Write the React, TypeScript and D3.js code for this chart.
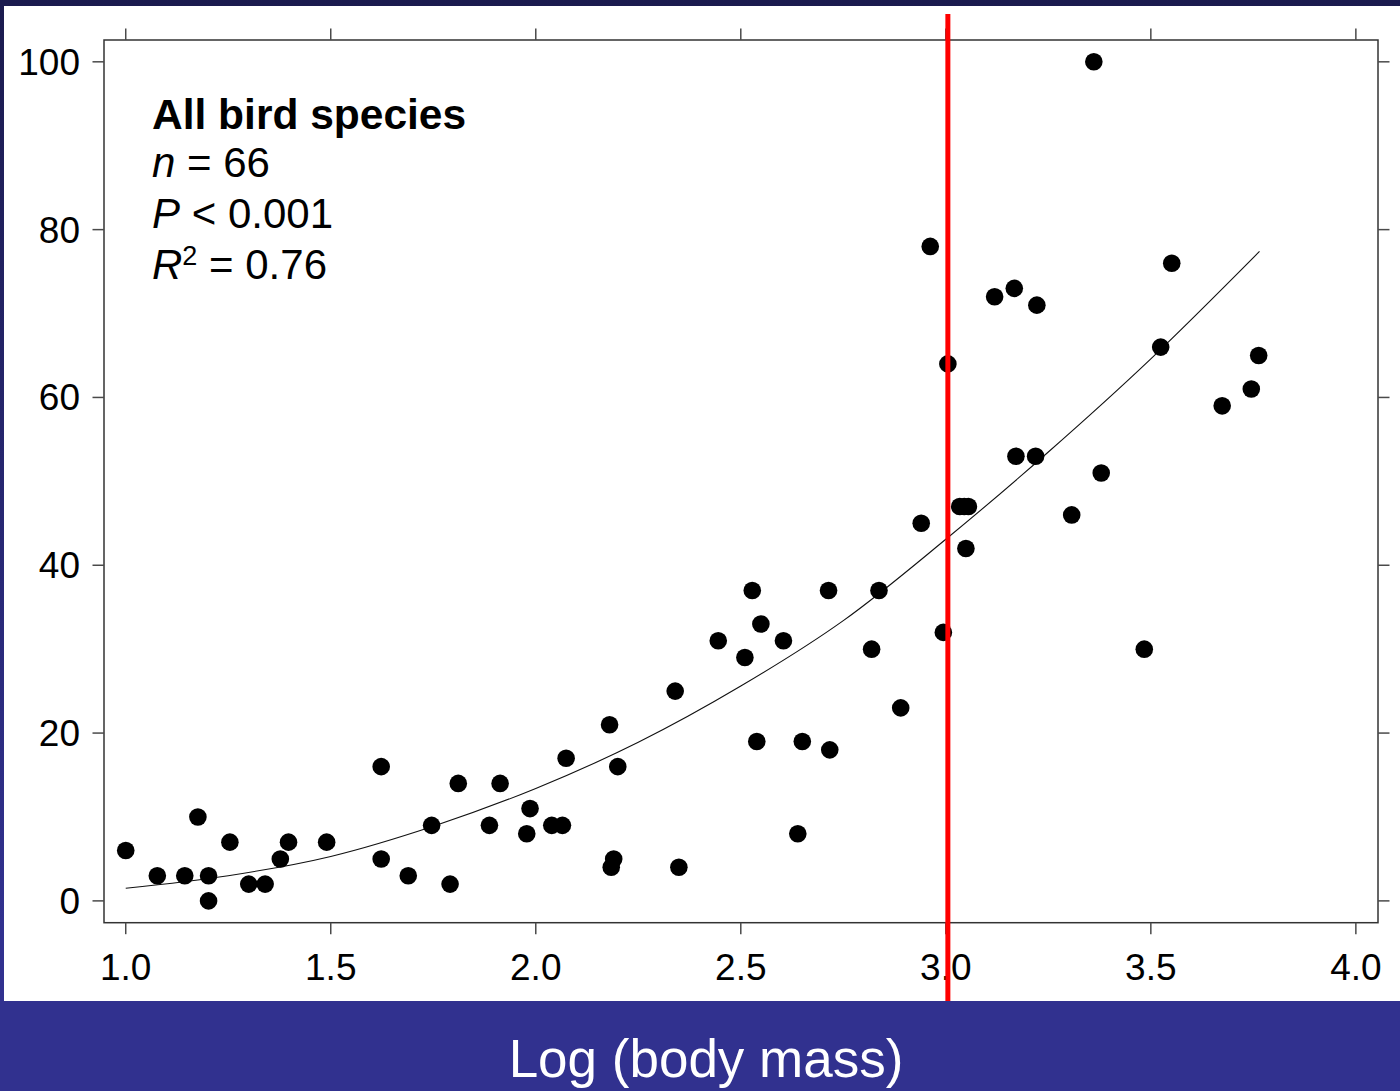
import React from "react";
import * as d3 from "d3";

const xValues = [
  1.0, 1.176, 1.077, 1.144, 1.202, 1.202, 1.254, 1.3, 1.34, 1.377, 1.397, 1.49,
  1.623, 1.623, 1.689, 1.746, 1.791, 1.811, 1.887, 1.913, 1.978, 1.986, 2.039, 2.065,
  2.074, 2.18, 2.2, 2.19, 2.184,
  2.528, 2.714, 2.837, 2.549, 2.445, 2.604, 2.51, 2.819, 2.34, 2.539, 2.65, 2.717,
  2.89, 2.639, 2.349,
  2.962, 3.119, 3.167, 3.222, 3.005, 3.171, 3.219, 3.034, 3.045, 3.055, 2.94, 3.049,
  2.994, 3.307,
  3.551, 3.524, 3.763, 3.745, 3.674, 3.379, 3.484, 3.361,
];
const yValues = [
  6, 10, 3, 3, 3, 0, 7, 2, 2, 5, 7, 7,
  16, 5, 3, 9, 2, 14, 9, 14, 8, 11, 9, 9,
  17, 21, 16, 5, 4,
  37, 37, 37, 33, 31, 31, 29, 30, 25, 19, 19, 18,
  23, 8, 4,
  78, 72, 73, 71, 64, 53, 53, 47, 47, 47, 45, 42,
  32, 46,
  76, 66, 65, 61, 59, 51, 30, 100,
];

const fitX = [1.0, 1.25, 1.5, 1.75, 2.0, 2.25, 2.5, 2.75, 3.0, 3.25, 3.5, 3.765];
const fitY = [1.5, 3.0, 5.3, 8.9, 13.4, 18.9, 25.6, 33.4, 43.1, 53.5, 64.6, 77.4];

const xTicks = [1.0, 1.5, 2.0, 2.5, 3.0, 3.5, 4.0];
const yTicks = [0, 20, 40, 60, 80, 100];
const thresholdX = [3.005];

const titleLine = "All bird species";
const statN = "66";
const statP = "0.001";
const statR2 = "0.76";
const axisTitle = "Log (body mass)";

const W = 1400;
const H = 1091;
const FONT = "'Liberation Sans', Arial, Helvetica, sans-serif";

export default function App() {
  const left = 104, right = 1378, top = 40, bottom = 922.7;
  const x = d3.scaleLinear().domain([0.947, 4.054]).range([left, right]);
  const y = d3.scaleLinear().domain([-2.6, 102.6]).range([bottom, top]);
  const pts = xValues.map((v, i) => [v, yValues[i]] as [number, number]);
  const fit = fitX.map((v, i) => [v, fitY[i]] as [number, number]);
  const line = d3
    .line<[number, number]>()
    .x((d) => x(d[0]))
    .y((d) => y(d[1]))
    .curve(d3.curveCatmullRom);
  const tickLen = 11.5;
  const tickColor = "#4a4a4a";

  return (
    <svg
      width={W}
      height={H}
      style={{ position: "absolute", left: 0, top: 0, display: "block" }}
      fontFamily={FONT}
    >
      <defs>
        <linearGradient id="bg" x1="0" y1="0" x2="0" y2="1">
          <stop offset="0" stopColor="#1b1b4e" />
          <stop offset="0.85" stopColor="#31318f" />
          <stop offset="1" stopColor="#31318f" />
        </linearGradient>
      </defs>
      <rect x={0} y={0} width={W} height={H} fill="url(#bg)" />
      <rect x={0} y={1001} width={W} height={H - 1001} fill="#31318f" />
      <rect x={4} y={6} width={W - 4} height={995} fill="#ffffff" />

      {/* plot box */}
      <rect
        x={left}
        y={top}
        width={right - left}
        height={bottom - top}
        fill="none"
        stroke="#333"
        strokeWidth={1.5}
      />

      {/* x ticks bottom and top */}
      {xTicks.map((t) => (
        <g key={"xt" + t}>
          <line x1={x(t)} x2={x(t)} y1={bottom} y2={bottom + tickLen} stroke={tickColor} strokeWidth={1.5} />
          <line x1={x(t)} x2={x(t)} y1={top} y2={top - tickLen} stroke={tickColor} strokeWidth={1.5} />
          <text x={x(t)} y={980} textAnchor="middle" fontSize={37} fill="#000">
            {t.toFixed(1)}
          </text>
        </g>
      ))}

      {/* y ticks left and right */}
      {yTicks.map((t) => (
        <g key={"yt" + t}>
          <line x1={left} x2={left - tickLen} y1={y(t)} y2={y(t)} stroke={tickColor} strokeWidth={1.5} />
          <line x1={right} x2={right + tickLen} y1={y(t)} y2={y(t)} stroke={tickColor} strokeWidth={1.5} />
          <text x={80} y={y(t) + 13} textAnchor="end" fontSize={37} fill="#000">
            {t}
          </text>
        </g>
      ))}

      {/* fitted curve */}
      <path d={line(fit) || ""} fill="none" stroke="#111" strokeWidth={1.1} />

      {/* points */}
      {pts.map((p, i) => (
        <circle key={i} cx={x(p[0])} cy={y(p[1])} r={8.8} fill="#000" />
      ))}

      {/* annotation */}
      <text x={152} y={129} fontSize={42.5} fontWeight="bold" fill="#000">
        {titleLine}
      </text>
      <text x={152} y={177} fontSize={42} fill="#000">
        <tspan fontStyle="italic">n</tspan>
        <tspan> = {statN}</tspan>
      </text>
      <text x={152} y={228} fontSize={42} fill="#000">
        <tspan fontStyle="italic">P</tspan>
        <tspan> &lt; {statP}</tspan>
      </text>
      <text x={152} y={279} fontSize={42} fill="#000">
        <tspan fontStyle="italic">R</tspan>
        <tspan fontSize={27} dy={-14}>2</tspan>
        <tspan dy={14}> = {statR2}</tspan>
      </text>

      {/* threshold line */}
      {thresholdX.map((t) => (
        <line key={"r" + t} x1={x(t)} x2={x(t)} y1={14} y2={1001} stroke="#ff0000" strokeWidth={5} />
      ))}

      {/* axis title */}
      <text x={706} y={1077} textAnchor="middle" fontSize={53} fill="#ffffff">
        {axisTitle}
      </text>
    </svg>
  );
}
